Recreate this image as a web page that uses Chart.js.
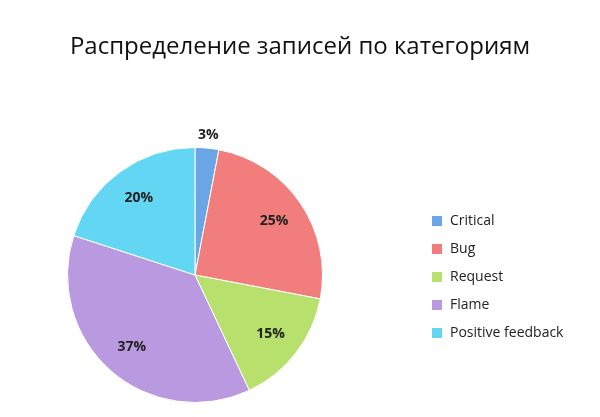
<!DOCTYPE html>
<html>
<head>
<meta charset="utf-8">
<script src="https://cdn.jsdelivr.net/npm/chart.js@4"></script>
<style>
  body { margin: 0; background: #fff; font-family: 'Open Sans', sans-serif; }
  #wrap { position: relative; width: 600px; height: 417px; }
  #title { position: absolute; top: 28px; left: 0; width: 600px; text-align: center; font-size: 24px; color: #111; }
  #legend { position: absolute; left: 432px; top: 209px; margin: 0; padding: 0; list-style: none; font-size: 14px; color: #222; }
  #legend li { height: 28px; line-height: 22px; }
  #legend span { display: inline-block; width: 10px; height: 10px; margin-right: 8px; vertical-align: -1px; }
  canvas { position: absolute; left: 0; top: 0; }
</style>
</head>
<body>
<div id="wrap">
  <canvas id="pie-chart" width="600" height="417"></canvas>
  <div id="title"></div>
  <ul id="legend"></ul>
</div>
<script>
const titleText = 'Распределение записей по категориям';
const categories = ['Critical', 'Bug', 'Request', 'Flame', 'Positive feedback'];
const shares = [3, 25, 15, 37, 20];
const colors = ['#6aa6e6', '#f27d7d', '#b7e06c', '#b99ae0', '#62d6f2'];

document.getElementById('title').textContent = titleText;
const legend = document.getElementById('legend');
categories.forEach((c, i) => {
    const li = document.createElement('li');
    li.innerHTML = `<span style="background:${colors[i]}"></span>${c}`;
    legend.appendChild(li);
});

const pctLabels = {
    id: 'pctLabels',
    afterDatasetsDraw(chart) {
        const ctx = chart.ctx;
        const meta = chart.getDatasetMeta(0);
        ctx.save();
        ctx.font = 'bold 14px "Open Sans"';
        ctx.fillStyle = '#222';
        ctx.textAlign = 'center';
        ctx.textBaseline = 'middle';
        meta.data.forEach((arc, i) => {
            const mid = (arc.startAngle + arc.endAngle) / 2;
            const r = arc.outerRadius * (i === 0 ? 1.1 : 0.75);
            ctx.fillText(shares[i] + '%', arc.x + Math.cos(mid) * r, arc.y + Math.sin(mid) * r);
        });
        ctx.restore();
    }
};

new Chart(document.getElementById('pie-chart'), {
    type: 'pie',
    data: {
        labels: categories,
        datasets: [{
            data: shares,
            backgroundColor: colors,
            borderColor: '#fff',
            borderWidth: 1
        }]
    },
    options: {
        responsive: false,
        animation: false,
        layout: { padding: { top: 147, bottom: 14, left: 0, right: 210 } },
        plugins: {
            legend: { display: false },
            tooltip: { enabled: false }
        }
    },
    plugins: [pctLabels]
});
</script>
</body>
</html>
